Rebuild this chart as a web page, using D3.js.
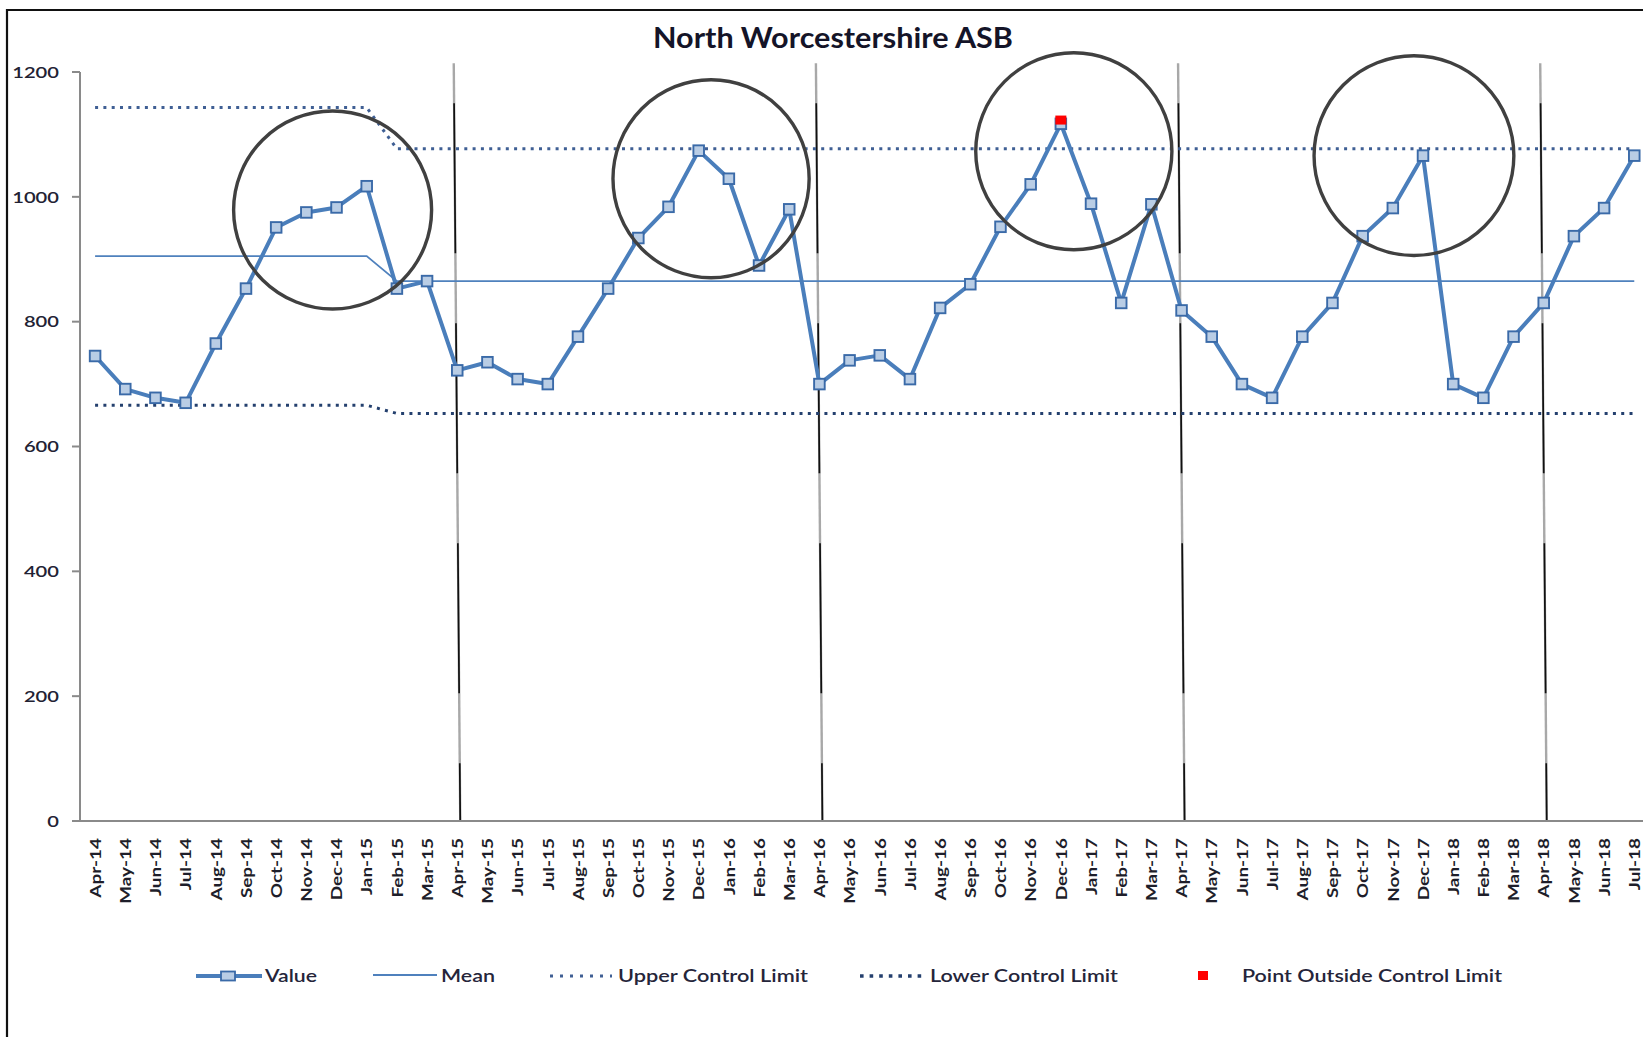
<!DOCTYPE html>
<html>
<head>
<meta charset="utf-8">
<script src="https://cdnjs.cloudflare.com/ajax/libs/d3/7.8.5/d3.min.js"></script>
<style>
  html, body { margin: 0; padding: 0; background: #fff; overflow: hidden; }
  svg { display: block; }
</style>
</head>
<body>
<svg id="chart" width="1643" height="1037"></svg>
<script>
// ---------------- DATA ----------------
const chartTitle = "North Worcestershire ASB";

const months = [
  "Apr-14","May-14","Jun-14","Jul-14","Aug-14","Sep-14","Oct-14","Nov-14","Dec-14","Jan-15","Feb-15","Mar-15",
  "Apr-15","May-15","Jun-15","Jul-15","Aug-15","Sep-15","Oct-15","Nov-15","Dec-15","Jan-16","Feb-16","Mar-16",
  "Apr-16","May-16","Jun-16","Jul-16","Aug-16","Sep-16","Oct-16","Nov-16","Dec-16","Jan-17","Feb-17","Mar-17",
  "Apr-17","May-17","Jun-17","Jul-17","Aug-17","Sep-17","Oct-17","Nov-17","Dec-17","Jan-18","Feb-18","Mar-18",
  "Apr-18","May-18","Jun-18","Jul-18"
];

const values = [
  745, 692, 678, 670, 765, 853, 951, 975, 983, 1017, 853, 865,
  722, 735, 708, 700, 776, 853, 934, 984, 1074, 1029, 890, 980,
  700, 738, 746, 708, 822, 860, 952, 1020, 1117, 989, 830, 988,
  818, 776, 700, 678, 776, 830, 937, 982, 1066, 700, 678, 776,
  830, 937, 982, 1066
];

const meanValues = [
  905, 905, 905, 905, 905, 905, 905, 905, 905, 905, 865, 865,
  865, 865, 865, 865, 865, 865, 865, 865, 865, 865, 865, 865,
  865, 865, 865, 865, 865, 865, 865, 865, 865, 865, 865, 865,
  865, 865, 865, 865, 865, 865, 865, 865, 865, 865, 865, 865,
  865, 865, 865, 865
];

const uclValues = [
  1143, 1143, 1143, 1143, 1143, 1143, 1143, 1143, 1143, 1143, 1077, 1077,
  1077, 1077, 1077, 1077, 1077, 1077, 1077, 1077, 1077, 1077, 1077, 1077,
  1077, 1077, 1077, 1077, 1077, 1077, 1077, 1077, 1077, 1077, 1077, 1077,
  1077, 1077, 1077, 1077, 1077, 1077, 1077, 1077, 1077, 1077, 1077, 1077,
  1077, 1077, 1077, 1077
];

const lclValues = [
  666, 666, 666, 666, 666, 666, 666, 666, 666, 666, 653, 653,
  653, 653, 653, 653, 653, 653, 653, 653, 653, 653, 653, 653,
  653, 653, 653, 653, 653, 653, 653, 653, 653, 653, 653, 653,
  653, 653, 653, 653, 653, 653, 653, 653, 653, 653, 653, 653,
  653, 653, 653, 653
];

// Point outside control limit (month, value)
const outsideMonths = ["Dec-16"];
const outsideValues = [1123];

// Year separator lines (drawn at these months), top of line in value units
const separatorMonths = ["Apr-15", "Apr-16", "Apr-17", "Apr-18"];
const separatorTop = 1214;

// Hand-drawn annotation ellipses: centre (month index, value), radii (months, value units)
const ringCentreIndex = [7.87, 20.41, 32.43, 43.70];
const ringCentreValue = [979, 1029, 1073, 1066];
const ringRadiusIndex = [3.28, 3.25, 3.25, 3.31];
const ringRadiusValue = [158.6, 158.6, 157.8, 160];

const yTicks = [0, 200, 400, 600, 800, 1000, 1200];

const legendLabels = ["Value", "Mean", "Upper Control Limit", "Lower Control Limit", "Point Outside Control Limit"];

// ---------------- LAYOUT ----------------
const svg = d3.select("#chart");
const W = 1643, H = 1037;
const plotLeft = 80, bandW = 30.18;
const plotRight = plotLeft + months.length * bandW;
const plotTop = 72, plotBottom = 821;

const colValue = "#4a7ebb", colMarkerFill = "#b9cde5", colMarkerStroke = "#3a6aa8";
const colMean = "#4f81bd", colUCL = "#3f5f94", colLCL = "#24406e";
const axisCol = "#8a8a8a";
const fontFam = "Lato, 'Open Sans', sans-serif";

const x = d3.scaleBand().domain(months).range([plotLeft, plotRight]).padding(0);
const cx = m => x(m) + x.bandwidth() / 2;
const xi = d3.scaleLinear().domain([0, months.length - 1]).range([cx(months[0]), cx(months[months.length - 1])]);
const y = d3.scaleLinear().domain([0, 1200]).range([plotBottom, plotTop]);

// background
svg.append("rect").attr("x", 0).attr("y", 0).attr("width", W).attr("height", H).attr("fill", "#fff");

// outer frame (cropped on right and bottom)
svg.append("path")
  .attr("d", `M7,${H + 5} L7,10 L${W + 5},10`)
  .attr("fill", "none").attr("stroke", "#111").attr("stroke-width", 2.2);

// title
svg.append("text")
  .attr("x", 833).attr("y", 48)
  .attr("text-anchor", "middle")
  .attr("font-family", fontFam).attr("font-weight", 700).attr("font-size", 29)
  .attr("fill", "#141428")
  .attr("textLength", 360).attr("lengthAdjust", "spacingAndGlyphs")
  .text(chartTitle);

// y axis
const yAxis = svg.append("g");
yAxis.append("line")
  .attr("x1", plotLeft).attr("x2", plotLeft)
  .attr("y1", y(1200)).attr("y2", y(0))
  .attr("stroke", axisCol).attr("stroke-width", 2);
yAxis.selectAll("line.tick").data(yTicks).enter().append("line")
  .attr("class", "tick")
  .attr("x1", plotLeft - 8).attr("x2", plotLeft)
  .attr("y1", d => y(d)).attr("y2", d => y(d))
  .attr("stroke", axisCol).attr("stroke-width", 2);
yAxis.selectAll("text").data(yTicks).enter().append("text")
  .attr("transform", d => `translate(59,${y(d)}) scale(1.26,1)`)
  .attr("dy", "0.36em")
  .attr("text-anchor", "end")
  .attr("font-family", fontFam).attr("font-size", 16).attr("font-weight", 600)
  .attr("fill", "#222233")
  .text(d => d);

// separator lines (behind series)
const sepG = svg.append("g");
separatorMonths.forEach(m => {
  const xb = cx(m);
  sepG.append("line")
    .attr("x1", xb - 3.5).attr("y1", y(separatorTop))
    .attr("x2", xb + 3).attr("y2", y(0))
    .attr("stroke", "#a8a8a8").attr("stroke-width", 2.4);
  sepG.append("line")
    .attr("x1", xb - 3.5).attr("y1", y(separatorTop))
    .attr("x2", xb + 3).attr("y2", y(0))
    .attr("stroke", "#111").attr("stroke-width", 1.7)
    .attr("stroke-dasharray", "150,70")
    .attr("stroke-dashoffset", -40);
});

// x axis line
svg.append("line")
  .attr("x1", plotLeft - 8).attr("x2", plotRight)
  .attr("y1", y(0)).attr("y2", y(0))
  .attr("stroke", axisCol).attr("stroke-width", 2);

// x labels
svg.append("g").selectAll("text").data(months).enter().append("text")
  .attr("transform", d => `translate(${cx(d)},838) rotate(-90) scale(1.22,1)`)
  .attr("dy", "0.37em")
  .attr("text-anchor", "end")
  .attr("font-family", fontFam).attr("font-size", 15.5).attr("font-weight", 700)
  .attr("fill", "#1e1e2a")
  .text(d => d);

// series lines
const lineGen = arr => d3.line().x((d, i) => cx(months[i])).y(d => y(d))(arr);

svg.append("path").attr("d", lineGen(uclValues))
  .attr("fill", "none").attr("stroke", colUCL).attr("stroke-width", 3)
  .attr("stroke-dasharray", "3,5.3");
svg.append("path").attr("d", lineGen(lclValues))
  .attr("fill", "none").attr("stroke", colLCL).attr("stroke-width", 3)
  .attr("stroke-dasharray", "3,5.3");
svg.append("path").attr("d", lineGen(meanValues))
  .attr("fill", "none").attr("stroke", colMean).attr("stroke-width", 1.8);

svg.append("path").attr("d", lineGen(values))
  .attr("fill", "none").attr("stroke", colValue).attr("stroke-width", 4)
  .attr("stroke-linejoin", "round");

svg.append("g").selectAll("rect").data(values).enter().append("rect")
  .attr("x", (d, i) => cx(months[i]) - 5.3).attr("y", d => y(d) - 5.3)
  .attr("width", 10.6).attr("height", 10.6)
  .attr("fill", colMarkerFill).attr("stroke", colMarkerStroke).attr("stroke-width", 1.9);

// outside points
svg.append("g").selectAll("rect").data(outsideMonths).enter().append("rect")
  .attr("x", d => cx(d) - 5.5).attr("y", (d, i) => y(outsideValues[i]) - 4.5)
  .attr("width", 11).attr("height", 9)
  .attr("fill", "#ff0000");

// annotation ellipses
svg.append("g").selectAll("ellipse").data(ringCentreIndex).enter().append("ellipse")
  .attr("cx", d => xi(d))
  .attr("cy", (d, i) => y(ringCentreValue[i]))
  .attr("rx", (d, i) => xi(d + ringRadiusIndex[i]) - xi(d))
  .attr("ry", (d, i) => y(ringCentreValue[i] - ringRadiusValue[i]) - y(ringCentreValue[i]))
  .attr("fill", "none").attr("stroke", "#404040").attr("stroke-width", 3.4);

// legend
const lg = svg.append("g");
const ly = 976;
const lfont = { fam: fontFam, size: 17 };
function legText(xp, len, label) {
  lg.append("text").attr("x", xp).attr("y", ly).attr("dy", "0.36em")
    .attr("font-family", lfont.fam).attr("font-size", lfont.size).attr("font-weight", 600)
    .attr("fill", "#25253a")
    .attr("textLength", len).attr("lengthAdjust", "spacingAndGlyphs")
    .text(label);
}
// Value
lg.append("line").attr("x1", 196).attr("x2", 262).attr("y1", ly).attr("y2", ly)
  .attr("stroke", colValue).attr("stroke-width", 4);
lg.append("rect").attr("x", 221).attr("y", ly - 4.5).attr("width", 14).attr("height", 9)
  .attr("fill", colMarkerFill).attr("stroke", colMarkerStroke).attr("stroke-width", 1.8);
legText(265, 52, legendLabels[0]);
// Mean
lg.append("line").attr("x1", 373).attr("x2", 437).attr("y1", ly - 1).attr("y2", ly - 1)
  .attr("stroke", colMean).attr("stroke-width", 1.8);
legText(441, 54, legendLabels[1]);
// UCL
lg.append("line").attr("x1", 550).attr("x2", 612).attr("y1", ly).attr("y2", ly)
  .attr("stroke", colUCL).attr("stroke-width", 3).attr("stroke-dasharray", "3,7");
legText(618, 190, legendLabels[2]);
// LCL
lg.append("line").attr("x1", 860).attr("x2", 922).attr("y1", ly).attr("y2", ly)
  .attr("stroke", colLCL).attr("stroke-width", 3.4).attr("stroke-dasharray", "3.6,6");
legText(930, 188, legendLabels[3]);
// Outside
lg.append("rect").attr("x", 1198).attr("y", ly - 5).attr("width", 10).attr("height", 9)
  .attr("fill", "#ff0000");
legText(1242, 260, legendLabels[4]);
</script>
</body>
</html>
